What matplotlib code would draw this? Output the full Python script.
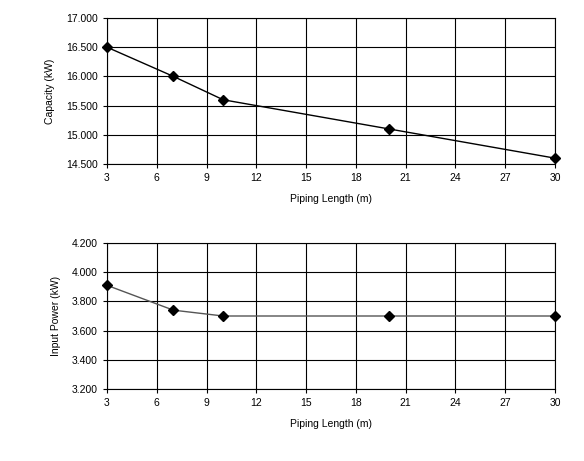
import matplotlib
matplotlib.use("Agg")
import matplotlib.pyplot as plt

piping_len = [3, 7, 10, 20, 30]
capacity = [16.5, 16.0, 15.6, 15.1, 14.6]
input_power = [3.91, 3.74, 3.70, 3.70, 3.70]
x_ticks = [3, 6, 9, 12, 15, 18, 21, 24, 27, 30]

plt.rcParams["font.family"] = ["Liberation Sans", "DejaVu Sans"]
plt.rcParams["font.size"] = 7.5

fig = plt.figure(figsize=(5.84, 4.61), dpi=100)
ax1 = fig.add_axes([107/584, 1-164/461, 448/584, 146/461])
ax2 = fig.add_axes([107/584, 1-389/461, 448/584, 146/461])

def style(ax, ylim, yticks, ylabel):
    ax.set_xlim(3, 30)
    ax.set_ylim(*ylim)
    ax.set_xticks(x_ticks)
    ax.set_yticks(yticks)
    ax.set_yticklabels([f"{v:.3f}" for v in yticks])
    ax.grid(True, color="black", linewidth=0.8)
    ax.set_axisbelow(True)
    ax.tick_params(length=3, width=0.8, colors="black")
    for s in ax.spines.values():
        s.set_linewidth(0.8)
    ax.set_xlabel("Piping Length (m)", labelpad=8)
    ax.set_ylabel(ylabel, labelpad=8)

ax1.plot(piping_len, capacity, "-", color="black", lw=1, marker="D", ms=5, clip_on=False)
style(ax1, (14.5, 17.0), [14.5, 15.0, 15.5, 16.0, 16.5, 17.0], "Capacity (kW)")

ax2.plot(piping_len, input_power, "-", color="#555555", lw=1, marker="D", ms=5,
         mfc="black", mec="black", clip_on=False)
style(ax2, (3.2, 4.2), [3.2, 3.4, 3.6, 3.8, 4.0, 4.2], "Input Power (kW)")

fig.savefig("out.png", dpi=100)
